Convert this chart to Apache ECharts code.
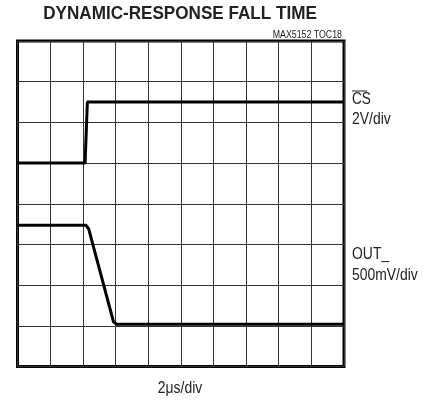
<!DOCTYPE html>
<html>
<head>
<meta charset="utf-8">
<script src="https://cdn.jsdelivr.net/npm/echarts@6/dist/echarts.min.js"></script>
<style>
  html, body { margin: 0; padding: 0; background: #fff; }
  #chart { width: 438px; height: 400px; }
</style>
</head>
<body>
<div id="chart"></div>
<script>
// scope trace, in divisions (x: 10 div, y: 8 div from bottom)
var csX = [0, 2.07, 2.14, 10];
var csY = [5.0, 5.0, 6.5, 6.5];
var outX = [0, 2.1, 2.18, 2.94, 3.04, 10];
var outY = [3.47, 3.47, 3.38, 1.1, 1.04, 1.04];
var xTicks = [0, 10, 1];
var yTicks = [0, 8, 1];

function pairs(xs, ys) {
    var arr = [];
    for (var i = 0; i < xs.length; i++) {
        arr.push([xs[i], ys[i]]);
    }
    return arr;
}

var font = '"Liberation Sans", Arial, sans-serif';
// no narrow font here, so squeeze the text a bit
function label(txt, x, y, size, align, sx, weight) {
    return {
        type: 'text', x: x, y: y, scaleX: sx,
        style: {
            text: txt, textAlign: align, textVerticalAlign: 'middle',
            font: (weight || 'normal') + ' ' + size + 'px ' + font,
            fill: '#222'
        }
    };
}

var myChart = echarts.init(document.getElementById('chart'));
var option = {
    animation: false,
    grid: {
        left: 17.5, right: 94, top: 41, bottom: 33.5,
        show: true,
        borderColor: '#000',
        borderWidth: 3
    },
    xAxis: {
        type: 'value',
        min: xTicks[0], max: xTicks[1], interval: xTicks[2],
        axisLine: { show: false },
        axisTick: { show: false },
        axisLabel: { show: false },
        splitLine: { show: true, lineStyle: { color: '#333', width: 1 } }
    },
    yAxis: {
        type: 'value',
        min: yTicks[0], max: yTicks[1], interval: yTicks[2],
        axisLine: { show: false },
        axisTick: { show: false },
        axisLabel: { show: false },
        splitLine: { show: true, lineStyle: { color: '#333', width: 1 } }
    },
    series: [],
    graphic: [
        label('DYNAMIC-RESPONSE FALL TIME', 180, 14, 19, 'center', 0.9, 'bold'),
        label('MAX5152 TOC18', 342, 35.5, 10, 'right', 0.88),
        label('CS', 352, 99.5, 16, 'left', 0.85),
        { type: 'line', shape: { x1: 352, y1: 91, x2: 367, y2: 91 }, style: { stroke: '#222', lineWidth: 1 } },
        label('2V/div', 352, 120, 16, 'left', 0.87),
        label('OUT_', 352, 255, 16, 'left', 0.87),
        label('500mV/div', 352, 275.5, 16, 'left', 0.87),
        label('2μs/div', 180, 389, 16, 'center', 0.87)
    ]
};
option.series.push({
    name: 'CS',
    type: 'line',
    symbol: 'none',
    data: pairs(csX, csY),
    lineStyle: { color: '#000', width: 3 }
});
option.series.push({
    name: 'OUT_',
    type: 'line',
    symbol: 'none',
    data: pairs(outX, outY),
    lineStyle: { color: '#000', width: 3, join: 'round' }
});
myChart.setOption(option);
</script>
</body>
</html>
